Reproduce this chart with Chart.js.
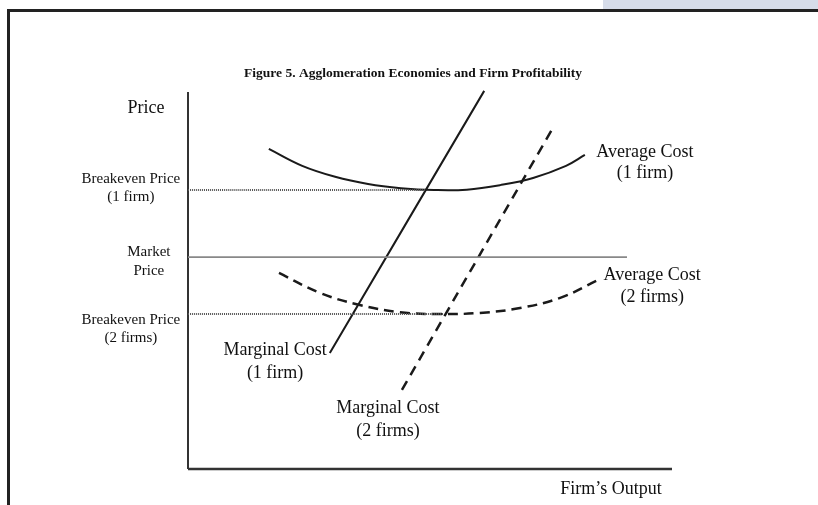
<!DOCTYPE html>
<html>
<head>
<meta charset="utf-8">
<script src="https://cdn.jsdelivr.net/npm/chart.js@4/dist/chart.umd.min.js"></script>
<style>
  html, body { margin: 0; padding: 0; background: #fff; }
  #wrap { position: relative; width: 818px; height: 505px; overflow: hidden; }
  #band { position: absolute; left: 603px; top: 0; width: 215px; height: 9px; background: #d6dce9; }
  #frame { position: absolute; left: 7px; top: 9px; width: 830px; height: 520px;
           border-left: 3px solid #222; border-top: 3px solid #222; }
  canvas { position: absolute; left: 0; top: 0; }
</style>
</head>
<body>
<div id="wrap">
  <div id="band"></div>
  <div id="frame"></div>
  <canvas id="econChart" width="818" height="505"></canvas>
</div>
<script>
// curves (output on x, price on y, both 0-100)
const mc1 = [{ x: 29.3, y: 30.8 }, { x: 61.2, y: 100.3 }];
const mc2 = [{ x: 44.2, y: 21.0 }, { x: 75.4, y: 90.5 }];
const ac1 = [
  { x: 16.7, y: 84.9 }, { x: 23.6, y: 80.4 }, { x: 30.4, y: 77.5 },
  { x: 37.2, y: 75.6 }, { x: 44.0, y: 74.5 }, { x: 50.8, y: 74.0 },
  { x: 57.6, y: 74.1 }, { x: 64.5, y: 75.3 }, { x: 71.3, y: 77.2 },
  { x: 78.1, y: 80.4 }, { x: 82.0, y: 83.3 }
];
const ac2 = [
  { x: 18.8, y: 52.0 }, { x: 27.3, y: 46.7 }, { x: 35.5, y: 43.5 },
  { x: 43.8, y: 41.6 }, { x: 52.1, y: 41.1 }, { x: 60.3, y: 41.4 },
  { x: 68.6, y: 42.7 }, { x: 76.9, y: 45.4 }, { x: 84.7, y: 50.1 }
];
const marketPrice = 56.2;
const marketEnd = 90.7;
const breakeven1 = 74.0;
const breakeven1End = 49.0;
const breakeven2 = 41.1;
const breakeven2End = 52.7;

// text placed in data units: [lines, x, y, font size, line height, bold]
const labels = [
  [["Figure 5. Agglomeration Economies and Firm Profitability"], 46.5, 105.0, 13.5, 16, true],
  [["Price"], -8.7, 95.8, 18, 20, false],
  [["Breakeven Price", "(1 firm)"], -11.8, 76.9, 15, 18, false],
  [["Market", "Price"], -8.1, 57.6, 15, 19, false],
  [["Breakeven Price", "(2 firms)"], -11.8, 39.5, 15, 18, false],
  [["Average Cost", "(1 firm)"], 94.4, 84.1, 18, 21, false],
  [["Average Cost", "(2 firms)"], 95.9, 51.5, 18, 22, false],
  [["Marginal Cost", "(1 firm)"], 18.0, 31.6, 18, 23, false],
  [["Marginal Cost", "(2 firms)"], 41.3, 16.2, 18, 23, false],
  [["Firm\u2019s Output"], 87.4, -5.3, 18, 20, false]
];

const textPlugin = {
  id: "figureText",
  afterDatasetsDraw(chart) {
    const ctx = chart.ctx;
    const xs = chart.scales.x, ys = chart.scales.y;
    ctx.save();
    ctx.fillStyle = "#111";
    ctx.textAlign = "center";
    ctx.textBaseline = "middle";
    labels.forEach(([lines, x, y, size, lh, bold]) => {
      ctx.font = (bold ? "bold " : "") + size + "px 'Liberation Serif', 'Times New Roman', serif";
      const px = xs.getPixelForValue(x);
      const py = ys.getPixelForValue(y);
      lines.forEach((t, i) => ctx.fillText(t, px, py + i * lh));
    });
    ctx.restore();
  }
};

const line = (data, color, width, dash) => ({
  data: data,
  showLine: true,
  borderColor: color,
  borderWidth: width,
  borderDash: dash || [],
  pointRadius: 0,
  tension: 0.4,
  clip: false,
  fill: false
});

const ctx = document.getElementById("econChart").getContext("2d");

const econChart = new Chart(ctx, {
  type: "scatter",
  data: {
    datasets: [
      line([{ x: 0, y: breakeven1 }, { x: breakeven1End, y: breakeven1 }], "#555", 2, [1, 1]),
      line([{ x: 0, y: breakeven2 }, { x: breakeven2End, y: breakeven2 }], "#555", 2, [1, 1]),
      line([{ x: 0, y: marketPrice }, { x: marketEnd, y: marketPrice }], "#888", 1.8),
      line(ac1, "#1a1a1a", 2),
      line(ac2, "#1a1a1a", 2.5, [10, 6]),
      line(mc1, "#1a1a1a", 2),
      line(mc2, "#1a1a1a", 2.5, [10, 7]),
      line([{ x: 0, y: 0 }, { x: 0, y: 100 }], "#333", 2),
      line([{ x: 0, y: 0 }, { x: 100, y: 0 }], "#333", 2.5)
    ]
  },
  options: {
    responsive: false,
    animation: false,
    layout: { padding: { left: 188, right: 146, top: 92, bottom: 36 } },
    plugins: { legend: { display: false }, tooltip: { enabled: false } },
    scales: {
      x: { type: "linear", min: 0, max: 100, display: false },
      y: { type: "linear", min: 0, max: 100, display: false }
    }
  },
  plugins: [textPlugin]
});
</script>
</body>
</html>
